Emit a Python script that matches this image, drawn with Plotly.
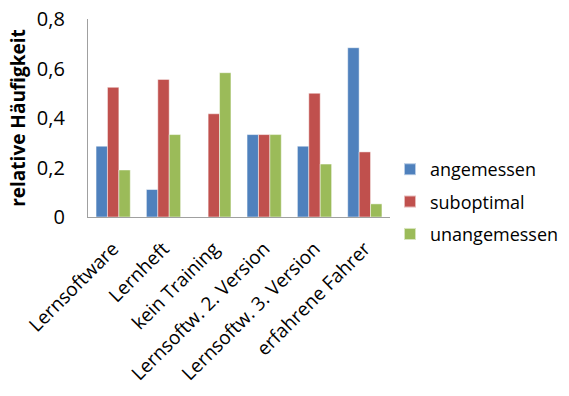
import plotly.graph_objects as go

categories = ["Lernsoftware", "Lernheft", "kein Training",
              "Lernsoftw. 2. Version", "Lernsoftw. 3. Version", "erfahrene Fahrer"]
angemessen = [0.286, 0.111, 0.0, 0.333, 0.286, 0.684]
suboptimal = [0.524, 0.556, 0.417, 0.333, 0.500, 0.263]
unangemessen = [0.190, 0.333, 0.583, 0.333, 0.214, 0.053]
y_ticks = [0, 0.2, 0.4, 0.6, 0.8]

series = [
    ("angemessen", angemessen, "#4F81BD"),
    ("suboptimal", suboptimal, "#C0504D"),
    ("unangemessen", unangemessen, "#9BBB59"),
]

font = "Open Sans, Noto Sans, sans-serif"

fig = go.Figure()
for name, vals, color in series:
    fig.add_trace(go.Bar(
        x=categories, y=vals, name=name, legendgroup=name,
        marker=dict(color=color, line=dict(color="rgba(255,255,255,0.6)", width=0.8)),
    ))

fig.update_layout(
    width=569, height=396,
    margin=dict(l=88, r=179, t=19, b=179, autoexpand=False),
    paper_bgcolor="white", plot_bgcolor="white",
    barmode="group", bargap=0.32, bargroupgap=0,
    separators=",.",
    font=dict(family=font, color="black"),
    showlegend=True,
    legend=dict(
        x=1.0, y=0.076, xanchor="left", yanchor="middle",
        font=dict(size=18, family=font),
        traceorder="grouped", tracegroupgap=6,
        itemsizing="constant", itemwidth=30,
        bgcolor="rgba(0,0,0,0)",
    ),
)

fig.update_xaxes(
    automargin=False,
    showline=True, linecolor="#A0A0A0", linewidth=1.2,
    showgrid=False, ticks="", tickangle=-45,
    ticklabelstandoff=12,
    tickfont=dict(size=19, family=font),
)
fig.update_yaxes(
    automargin=False,
    range=[0, 0.8], tickvals=y_ticks,
    ticktext=["0" if v == 0 else f"{v:.1f}".replace(".", ",") for v in y_ticks],
    showline=True, linecolor="#A0A0A0", linewidth=1.2,
    showgrid=False, zeroline=False, ticks="",
    ticklabelstandoff=18,
    tickfont=dict(size=20, family=font),
    title=dict(text="<b>relative Häufigkeit</b>", font=dict(size=19, family=font), standoff=6),
)

fig.write_html("out.html")
